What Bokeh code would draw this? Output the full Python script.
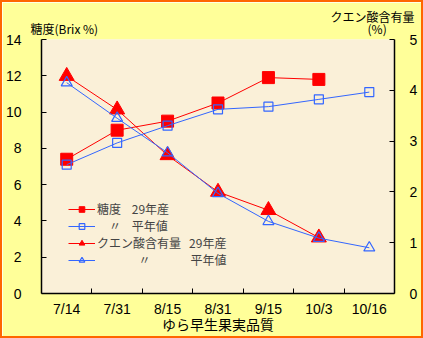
from bokeh.plotting import figure
from bokeh.models import (Range1d, LinearAxis, FixedTicker, Legend, LegendItem,
                          SingleIntervalTicker, Title)
from bokeh.embed import file_html
from bokeh.resources import INLINE

categories = ["7/14", "7/31", "8/15", "8/31", "9/15", "10/3", "10/16"]
brix_29 = [7.4, 9.0, 9.5, 10.5, 11.9, 11.8]
brix_avg = [7.1, 8.3, 9.25, 10.15, 10.3, 10.7, 11.1]
acid_29 = [4.28, 3.62, 2.72, 2.0, 1.64, 1.1]
acid_avg = [4.15, 3.45, 2.77, 1.97, 1.42, 1.09, 0.9]

FONT = "Noto Sans CJK JP"
NUMFONT = "Liberation Sans"
RED = "#FF0000"
BLUE = "#3366FF"
SP = "\u3000"
NB = "\u00a0"

xs = list(range(len(categories)))

p = figure(width=419, height=334, output_backend="svg", toolbar_location=None,
           x_range=Range1d(-0.5, len(categories) - 0.5), y_range=Range1d(0, 14),
           frame_width=353, frame_height=254,
           min_border_left=39, min_border_right=27, min_border_top=37, min_border_bottom=43)
p.styles = {"border": "2px solid #FF6600"}
p.border_fill_color = "#FFFF99"
p.background_fill_color = "#FAF0D8"
p.outline_line_color = None
p.grid.visible = False

p.extra_y_ranges = {"acid": Range1d(0, 5)}

# axes
xa = p.xaxis[0]
xa.ticker = FixedTicker(ticks=xs, minor_ticks=[i + 0.5 for i in xs[:-1]])
xa.major_label_overrides = {i: c for i, c in enumerate(categories)}
xa.major_tick_line_color = None
xa.major_tick_in = 0
xa.major_tick_out = 0
xa.minor_tick_in = 5
xa.minor_tick_out = 0
xa.minor_tick_line_color = "black"
xa.major_label_standoff = 7
xa.axis_label = "ゆら早生果実品質"
xa.axis_label_standoff = -6
xa.axis_label_text_font = FONT
xa.axis_label_text_font_style = "normal"
xa.axis_label_text_font_size = "14px"
xa.axis_label_text_color = "black"

ya = p.yaxis[0]
ya.ticker = SingleIntervalTicker(interval=2)
ya.major_tick_in = 5
ya.major_tick_out = 0
ya.minor_tick_line_color = None
ya.major_label_standoff = 16

ra = LinearAxis(y_range_name="acid", ticker=SingleIntervalTicker(interval=1))
ra.major_tick_in = 5
ra.major_tick_out = 0
ra.minor_tick_line_color = None
ra.major_label_standoff = 11
p.add_layout(ra, "right")

for ax in [xa, ya, ra]:
    ax.axis_line_color = "black"
    ax.axis_line_width = 1.5
    ax.major_label_text_font = NUMFONT
    ax.major_label_text_font_size = "14px"
    ax.major_label_text_color = "black"

# series
l1 = p.line(xs[:len(brix_29)], brix_29, color=RED, line_width=1)
m1 = p.scatter(xs[:len(brix_29)], brix_29, marker="square", size=12, fill_color=RED, line_color=RED)
l3 = p.line(xs[:len(acid_29)], acid_29, color=RED, line_width=1, y_range_name="acid")
m3 = p.scatter(xs[:len(acid_29)], acid_29, marker="triangle", size=15, fill_color=RED, line_color=RED,
               y_range_name="acid")
l2 = p.line(xs, brix_avg, color=BLUE, line_width=1)
m2 = p.scatter(xs, brix_avg, marker="square", size=9, fill_color=None, line_color=BLUE, line_width=1.2)
l4 = p.line(xs, acid_avg, color=BLUE, line_width=1, y_range_name="acid")
m4 = p.scatter(xs, acid_avg, marker="triangle", size=11, fill_color=None, line_color=BLUE, line_width=1.2,
               y_range_name="acid")

legend = Legend(items=[
    LegendItem(label="糖度" + NB * 4 + "29年産", renderers=[l1, m1]),
    LegendItem(label=SP + "〃" + NB * 4 + "平年値", renderers=[l2, m2]),
    LegendItem(label="クエン酸含有量" + NB * 3 + "29年産", renderers=[l3, m3]),
    LegendItem(label=SP * 3 + NB * 2 + "〃" + SP * 2 + NB * 6 + "平年値", renderers=[l4, m4]),
], location=(27, 25), background_fill_alpha=0, border_line_color=None,
    glyph_width=27, glyph_height=14, label_standoff=2, spacing=-4, padding=0, margin=0,
    label_text_font=FONT, label_text_font_size="12px", label_height=14)
p.add_layout(legend, "center")

# two-line title above the frame: right-axis title on line 1, left-axis title and unit on line 2
title_text = (SP * 25 + "クエン酸含有量" + "\n" +
              "糖度(Brix %)" + SP * 22 + NB * 2 + "(%)")
p.add_layout(Title(text=title_text, align="left", offset=-11, standoff=5,
                   text_font=FONT, text_font_size="12px", text_font_style="normal",
                   text_line_height=0.7, text_color="black"), "above")

open("out.html", "w").write(file_html(p, INLINE))
